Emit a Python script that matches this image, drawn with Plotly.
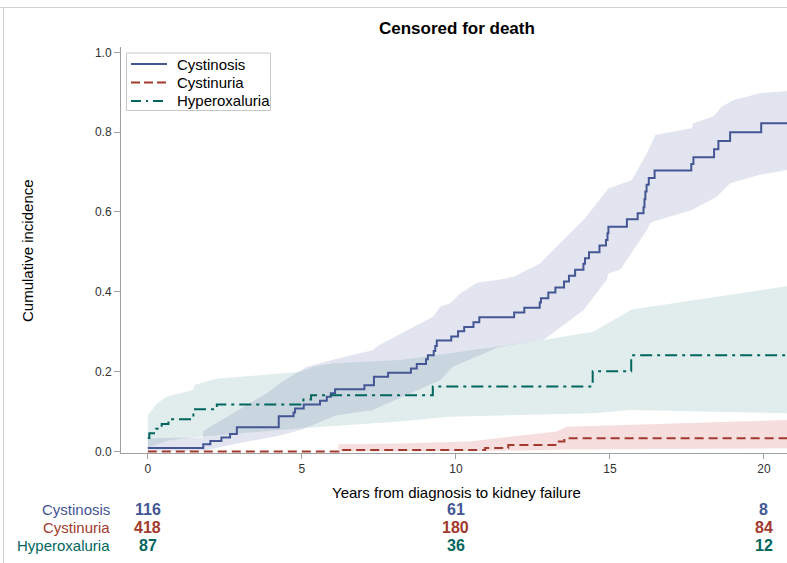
import plotly.graph_objects as go

# ---- Cumulative incidence step estimates (years, cumulative incidence) ----
cystinosis_t = [0, 1.80, 2.03, 2.39, 2.67, 2.89, 4.25, 4.73, 4.78, 5.06, 5.59, 5.81, 5.94,
                6.08, 7.03, 7.34, 7.80, 8.54, 8.73, 9.03, 9.09, 9.28, 9.33, 9.38, 9.85,
                10.07, 10.27, 10.57, 10.76, 11.89, 12.22, 12.72, 12.76, 13.00, 13.23,
                13.51, 13.67, 13.87, 14.14, 14.19, 14.32, 14.66, 14.87, 14.92, 14.95,
                15.55, 15.90, 16.09, 16.12, 16.15, 16.19, 16.26, 16.45, 17.64, 17.71,
                18.38, 18.52, 18.90, 19.91, 20.75]
cystinosis_ci = [0.009, 0.018, 0.026, 0.035, 0.044, 0.061, 0.088, 0.098, 0.108, 0.118, 0.127,
                 0.137, 0.146, 0.156, 0.166, 0.187, 0.197, 0.208, 0.219, 0.231, 0.241,
                 0.252, 0.264, 0.278, 0.288, 0.301, 0.312, 0.324, 0.336, 0.348, 0.360,
                 0.373, 0.384, 0.398, 0.411, 0.426, 0.440, 0.455, 0.470, 0.484, 0.499,
                 0.516, 0.530, 0.547, 0.563, 0.582, 0.597, 0.612, 0.632, 0.651, 0.668,
                 0.685, 0.704, 0.720, 0.737, 0.757, 0.778, 0.800, 0.822, 0.822]

cystinuria_t = [0, 6.19, 10.95, 11.70, 13.27, 13.52, 20.75]
cystinuria_ci = [0.0, 0.004, 0.009, 0.016, 0.025, 0.033, 0.033]

hyperox_t = [0, 0.05, 0.27, 0.45, 0.67, 1.48, 2.24, 5.05, 5.30, 9.25, 14.44, 15.69, 20.75]
hyperox_ci = [0.034, 0.046, 0.057, 0.069, 0.081, 0.106, 0.118, 0.130, 0.141, 0.163,
              0.201, 0.241, 0.241]

# ---- 95% confidence bands ----
cystinosis_band_t = [0, 1.79, 1.8, 2.02, 2.77, 3.86, 4.29, 5.16, 6.1, 7.32, 7.43, 9.27, 9.49,
                     9.8, 10.14, 10.68, 11.44, 11.87, 12.73, 14.19, 14.95, 15.71, 16.2,
                     16.47, 17.66, 17.71, 18.36, 18.63, 19.0, 19.9, 20.75]
cystinosis_band_hi = [0.033, 0.035, 0.05, 0.062, 0.096, 0.146, 0.171, 0.212, 0.232, 0.254,
                      0.263, 0.338, 0.363, 0.371, 0.396, 0.423, 0.431, 0.438, 0.471, 0.584,
                      0.659, 0.680, 0.747, 0.793, 0.810, 0.822, 0.839, 0.864, 0.880, 0.898,
                      0.903]
cystinosis_lo_t = [0, 1.8, 2.9, 4.3, 5.0, 6.1, 7.3, 9.5, 9.9, 11.4, 12.84, 14.14, 14.9, 14.95,
                   15.33, 16.2, 16.3, 16.41, 17.66, 18.47, 18.9, 19.87, 20.75]
cystinosis_band_lo = [0.0, 0.002, 0.02, 0.04, 0.055, 0.09, 0.104, 0.179, 0.212, 0.262,
                      0.279, 0.354, 0.43, 0.446, 0.455, 0.555, 0.572, 0.576, 0.605, 0.638,
                      0.672, 0.693, 0.705]

cystinuria_band_t = [0, 6.18, 6.19, 8.18, 10.45, 10.95, 11.75, 13.27, 13.6, 20.75]
cystinuria_band_hi = [0.0, 0.0, 0.018, 0.020, 0.025, 0.029, 0.037, 0.050, 0.062, 0.079]
cystinuria_lo_t = [0, 6.19, 10.95, 13.5, 20.75]
cystinuria_band_lo = [0.0, 0.0, 0.001, 0.005, 0.008]

hyperox_band_t = [0, 0.3, 0.61, 1.47, 1.53, 2.24, 4.94, 5.37, 6.0, 8.18, 9.8, 12.84, 14.46,
                  15.71, 20.75]
hyperox_band_hi = [0.09, 0.12, 0.137, 0.154, 0.167, 0.182, 0.200, 0.212, 0.221, 0.229, 0.246,
                   0.279, 0.300, 0.356, 0.414]
hyperox_lo_t = [0, 0.3, 0.7, 1.5, 2.3, 4.94, 8.18, 9.8, 14.46, 15.65, 20.75]
hyperox_band_lo = [0.01, 0.018, 0.028, 0.036, 0.040, 0.058, 0.075, 0.087, 0.096, 0.104, 0.096]

# ---- Numbers at risk ----
risk_times = [0, 10, 20]
groups = ["Cystinosis", "Cystinuria", "Hyperoxaluria"]
at_risk = {
    "Cystinosis": [116, 61, 8],
    "Cystinuria": [418, 180, 84],
    "Hyperoxaluria": [87, 36, 12],
}

x_ticks = [0, 5, 10, 15, 20]
y_ticks = [0.0, 0.2, 0.4, 0.6, 0.8, 1.0]

line_colors = {"Cystinosis": "#445694", "Cystinuria": "#A23A2E", "Hyperoxaluria": "#01665E"}
band_colors = {"Cystinosis": "rgba(111,126,179,0.2)",
               "Cystinuria": "rgba(208,91,91,0.2)",
               "Hyperoxaluria": "rgba(102,165,160,0.2)"}
dashes = {"Cystinosis": "solid", "Cystinuria": "9px,5px", "Hyperoxaluria": "12px,5px,3px,5px"}
legend_dashes = {"Cystinosis": "solid", "Cystinuria": "9px,4px", "Hyperoxaluria": "10px,5px,2px,5px"}

FONT = "Liberation Sans, Arial, sans-serif"

fig = go.Figure()

bands = {
    "Cystinosis": (cystinosis_band_t, cystinosis_band_hi, cystinosis_lo_t, cystinosis_band_lo),
    "Cystinuria": (cystinuria_band_t, cystinuria_band_hi, cystinuria_lo_t, cystinuria_band_lo),
    "Hyperoxaluria": (hyperox_band_t, hyperox_band_hi, hyperox_lo_t, hyperox_band_lo),
}
for g in ["Hyperoxaluria", "Cystinuria", "Cystinosis"]:
    ht, hv, lt, lv = bands[g]
    fig.add_trace(go.Scatter(
        x=list(ht) + list(lt)[::-1], y=list(hv) + list(lv)[::-1],
        fill="toself", fillcolor=band_colors[g], mode="lines",
        line=dict(width=0), hoverinfo="skip", showlegend=False))

curves = {
    "Cystinosis": (cystinosis_t, cystinosis_ci),
    "Cystinuria": (cystinuria_t, cystinuria_ci),
    "Hyperoxaluria": (hyperox_t, hyperox_ci),
}
for g in groups:
    t, v = curves[g]
    fig.add_trace(go.Scatter(
        x=t, y=v, mode="lines", name=g, line_shape="hv", showlegend=False,
        line=dict(color=line_colors[g], width=2, dash=dashes[g])))

# Plot area geometry (pixels)
L, R, T, B = 121, 787, 47, 453
W, H = R - L, B - T


def py(p):
    return (B - p) / H


def px(p):
    return (p - L) / W


def label(text, x, y, size, color, **kw):
    d = dict(text=text, x=x, y=y, xref=kw.pop("xref", "paper"), yref="paper",
             xanchor=kw.pop("xanchor", "center"), yanchor="middle", showarrow=False,
             font=dict(size=size, color=color, family=FONT))
    d.update(kw)
    return d


annotations = [
    label("<b>Censored for death</b>", px(457), py(29), 17, "black"),
    label("Cumulative incidence", px(27), py(250), 15, "black", textangle=-90),
    label("Years from diagnosis to kidney failure", px(456), py(492), 15, "black"),
]
row_y = [510, 527, 545]
for g, ry in zip(groups, row_y):
    annotations.append(label(g, px(112), py(ry), 15, line_colors[g], xanchor="right"))
    for t, n in zip(risk_times, at_risk[g]):
        annotations.append(label(f"<b>{n}</b>", t, py(ry), 16, line_colors[g], xref="x"))

shapes = [
    dict(type="line", xref="paper", yref="paper", x0=px(0), x1=px(787), y0=py(7.5), y1=py(7.5),
         line=dict(color="#d2d2d2", width=1)),
    dict(type="line", xref="paper", yref="paper", x0=px(3.5), x1=px(3.5), y0=py(7.5), y1=py(563),
         line=dict(color="#d2d2d2", width=1)),
    # legend frame
    dict(type="rect", xref="paper", yref="paper", x0=px(126.5), x1=px(270.5), y0=py(53),
         y1=py(110.5), line=dict(color="#c8c8c8", width=1), fillcolor="white"),
]
legend_y = [64, 82.5, 101]
for g, ly in zip(groups, legend_y):
    shapes.append(dict(type="line", xref="paper", yref="paper", x0=px(131), x1=px(167),
                       y0=py(ly), y1=py(ly),
                       line=dict(color=line_colors[g], width=2, dash=legend_dashes[g])))
    annotations.append(label(g, px(175), py(ly), 15, "black", xanchor="left"))

fig.update_layout(
    width=787, height=563,
    margin=dict(l=L, r=787 - R, t=T, b=563 - B),
    paper_bgcolor="white", plot_bgcolor="white",
    font=dict(family=FONT),
    showlegend=False,
    annotations=annotations,
    shapes=shapes,
    xaxis=dict(range=[-0.870, 20.747], tickvals=x_ticks, ticktext=[str(v) for v in x_ticks],
               showgrid=False, zeroline=False, showline=True, linecolor="#a0a0a0", linewidth=1,
               ticks="outside", ticklen=5, tickcolor="#a0a0a0",
               tickfont=dict(size=12, color="#333333", family=FONT)),
    yaxis=dict(range=[-0.00376, 1.01327], tickvals=y_ticks,
               ticktext=[f"{v:.1f}" for v in y_ticks],
               showgrid=False, zeroline=False, showline=True, linecolor="#a0a0a0", linewidth=1,
               ticks="outside", ticklen=6, tickcolor="#a0a0a0",
               tickfont=dict(size=12, color="#333333", family=FONT)),
)

fig.write_html("out.html")
